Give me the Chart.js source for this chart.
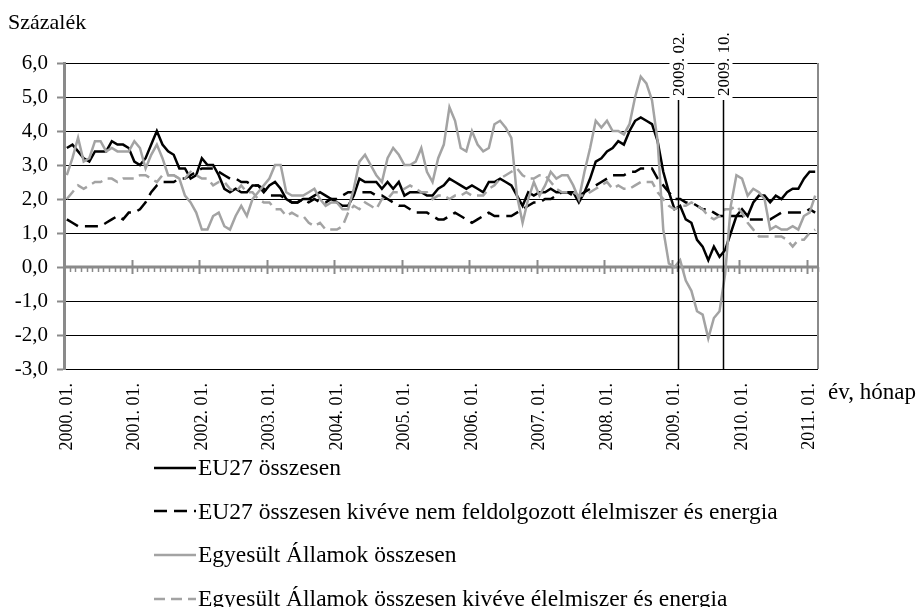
<!DOCTYPE html>
<html>
<head>
<meta charset="utf-8">
<script src="https://cdn.jsdelivr.net/npm/chart.js@4.4.0/dist/chart.umd.min.js"></script>
<style>
body { margin: 0; background: #fff; font-family: "Liberation Serif", "Times New Roman", serif; }
#wrap { position: relative; width: 920px; height: 607px; }
#chart { position: absolute; left: 0; top: 0; }
.txt { position: absolute; color: #000; white-space: nowrap; line-height: 26px; }
#legend { position: absolute; left: 154px; top: 446px; }
.item { display: flex; align-items: center; height: 43.6px; font-size: 23.5px; color: #000; white-space: nowrap; }
.item svg { margin-right: 2px; }
</style>
</head>
<body>
<div id="wrap">
  <canvas id="chart" width="920" height="460"></canvas>
  <div class="txt" style="left:8px; top:9px; font-size:22px;">Százalék</div>
  <div class="txt" style="left:828px; top:379px; font-size:23px;">év, hónap</div>
  <div id="legend"></div>
</div>
<script>
// ---- data (monthly, 2000. 01. - 2011. 02.) ----
const years = ["2000", "2001", "2002", "2003", "2004", "2005", "2006", "2007", "2008", "2009", "2010", "2011"];
const months = ["01", "02", "03", "04", "05", "06", "07", "08", "09", "10", "11", "12"];
const lastMonthCount = 2; // 2011 only Jan-Feb

const seriesNames = [
    "EU27 összesen",
    "EU27 összesen kivéve nem feldolgozott élelmiszer és energia",
    "Egyesült Államok összesen",
    "Egyesült Államok összesen kivéve élelmiszer és energia"
];

const eu27Total = [
    3.5, 3.6, 3.4, 3.2, 3.1, 3.4, 3.4, 3.4, 3.7, 3.6, 3.6, 3.5,
    3.1, 3.0, 3.2, 3.6, 4.0, 3.6, 3.4, 3.3, 2.9, 2.9, 2.6, 2.7,
    3.2, 3.0, 3.0, 2.7, 2.3, 2.2, 2.3, 2.2, 2.2, 2.4, 2.4, 2.2,
    2.4, 2.5, 2.3, 2.0, 1.9, 1.9, 2.0, 2.0, 2.1, 2.2, 2.1, 2.0,
    1.9, 1.8, 1.8, 2.1, 2.6, 2.5, 2.5, 2.5, 2.3, 2.5, 2.3, 2.5,
    2.1, 2.2, 2.2, 2.2, 2.1, 2.1, 2.3, 2.4, 2.6, 2.5, 2.4, 2.3,
    2.4, 2.3, 2.2, 2.5, 2.5, 2.6, 2.5, 2.4, 2.1, 1.8, 2.2, 2.1,
    2.2, 2.2, 2.3, 2.2, 2.2, 2.2, 2.2, 1.9, 2.2, 2.6, 3.1, 3.2,
    3.4, 3.5, 3.7, 3.6, 4.0, 4.3, 4.4, 4.3, 4.2, 3.7, 2.8, 2.2,
    1.7, 1.8, 1.4, 1.3, 0.8, 0.6, 0.2, 0.6, 0.3, 0.5, 1.0, 1.5,
    1.7, 1.5, 1.9, 2.1, 2.1, 1.9, 2.1, 2.0, 2.2, 2.3, 2.3, 2.6,
    2.8, 2.8
];
const eu27Core = [
    1.4, 1.3, 1.2, 1.2, 1.2, 1.2, 1.2, 1.3, 1.4, 1.5, 1.4, 1.6,
    1.6, 1.7, 1.9, 2.2, 2.4, 2.5, 2.5, 2.5, 2.6, 2.6, 2.7, 2.8,
    2.9, 2.9, 2.9, 2.8, 2.7, 2.6, 2.6, 2.5, 2.5, 2.4, 2.4, 2.3,
    2.1, 2.1, 2.1, 2.0, 1.9, 1.9, 2.0, 1.9, 2.0, 1.9, 1.9, 2.0,
    2.0, 2.1, 2.2, 2.2, 2.2, 2.2, 2.2, 2.1, 2.1, 2.0, 1.9, 1.8,
    1.8, 1.7, 1.6, 1.6, 1.6, 1.5, 1.4, 1.4, 1.5, 1.6, 1.5, 1.4,
    1.3, 1.4, 1.5, 1.6, 1.5, 1.5, 1.5, 1.5, 1.6, 1.7, 1.8, 1.9,
    1.9, 2.0, 2.0, 2.1, 2.2, 2.2, 2.1, 2.1, 2.2, 2.3, 2.4, 2.5,
    2.6, 2.7, 2.7, 2.7, 2.8, 2.8, 2.9, 2.9, 2.9, 2.6, 2.4, 2.2,
    2.0, 2.0, 1.9, 1.9, 1.8, 1.7, 1.7, 1.6, 1.5, 1.5, 1.5, 1.5,
    1.5, 1.4, 1.4, 1.4, 1.4, 1.4, 1.5, 1.6, 1.6, 1.6, 1.6, 1.6,
    1.7, 1.6
];
const usTotal = [
    2.7, 3.2, 3.8, 3.1, 3.2, 3.7, 3.7, 3.4, 3.5, 3.4, 3.4, 3.4,
    3.7, 3.5, 2.9, 3.3, 3.6, 3.2, 2.7, 2.7, 2.6, 2.1, 1.9, 1.6,
    1.1, 1.1, 1.5, 1.6, 1.2, 1.1, 1.5, 1.8, 1.5, 2.0, 2.2, 2.4,
    2.6, 3.0, 3.0, 2.2, 2.1, 2.1, 2.1, 2.2, 2.3, 2.0, 1.8, 1.9,
    1.9, 1.7, 1.7, 2.3, 3.1, 3.3, 3.0, 2.7, 2.5, 3.2, 3.5, 3.3,
    3.0, 3.0, 3.1, 3.5, 2.8, 2.5, 3.2, 3.6, 4.7, 4.3, 3.5, 3.4,
    4.0, 3.6, 3.4, 3.5, 4.2, 4.3, 4.1, 3.8, 2.1, 1.3, 2.0, 2.5,
    2.1, 2.4, 2.8, 2.6, 2.7, 2.7, 2.4, 2.0, 2.8, 3.5, 4.3, 4.1,
    4.3, 4.0, 4.0, 3.9, 4.2, 5.0, 5.6, 5.4, 4.9, 3.7, 1.1, 0.1,
    0.0, 0.2, -0.4, -0.7, -1.3, -1.4, -2.1, -1.5, -1.3, -0.2, 1.8, 2.7,
    2.6, 2.1, 2.3, 2.2, 2.0, 1.1, 1.2, 1.1, 1.1, 1.2, 1.1, 1.5,
    1.6, 2.1
];
const usCore = [
    2.0, 2.2, 2.4, 2.3, 2.4, 2.5, 2.5, 2.6, 2.6, 2.5, 2.6, 2.6,
    2.6, 2.7, 2.7, 2.6, 2.5, 2.7, 2.7, 2.7, 2.6, 2.6, 2.8, 2.7,
    2.6, 2.6, 2.4, 2.5, 2.5, 2.3, 2.2, 2.4, 2.2, 2.2, 2.0, 1.9,
    1.9, 1.7, 1.7, 1.5, 1.6, 1.5, 1.5, 1.3, 1.2, 1.3, 1.1, 1.1,
    1.1, 1.2, 1.6, 1.8, 1.7, 1.9, 1.8, 1.7, 2.0, 2.0, 2.2, 2.2,
    2.3, 2.4, 2.3, 2.2, 2.2, 2.0, 2.1, 2.1, 2.0, 2.1, 2.1, 2.2,
    2.1, 2.1, 2.1, 2.3, 2.4, 2.6, 2.7, 2.8, 2.9, 2.7, 2.6, 2.6,
    2.7, 2.7, 2.5, 2.3, 2.2, 2.2, 2.2, 2.1, 2.1, 2.2, 2.3, 2.4,
    2.5, 2.3, 2.4, 2.3, 2.3, 2.4, 2.5, 2.5, 2.5, 2.2, 2.0, 1.8,
    1.7, 1.8, 1.8, 1.9, 1.8, 1.7, 1.5, 1.4, 1.5, 1.7, 1.7, 1.8,
    1.6, 1.3, 1.1, 0.9, 0.9, 0.9, 0.9, 0.9, 0.8, 0.6, 0.8, 0.8,
    1.0, 1.1
];

const markerLabels = ["2009. 02.", "2009. 10."];
const yTicks = [-3, -2, -1, 0, 1, 2, 3, 4, 5, 6];

// category labels "YYYY. MM."
const labels = [];
years.forEach(function(yr, yi) {
    const n = (yi === years.length - 1) ? lastMonthCount : 12;
    for (let m = 0; m < n; m++) labels.push(yr + ". " + months[m] + ".");
});

const black = "#000000";
const gray = "#a3a3a3";
const axisGray = "#8a8a8a";
const serif = "'Liberation Serif', 'Times New Roman', serif";
const styles = [
    { color: black, dash: [] },
    { color: black, dash: [13, 7] },
    { color: gray, dash: [] },
    { color: gray, dash: [11, 6] }
];
const seriesData = [eu27Total, eu27Core, usTotal, usCore];

const datasets = seriesData.map(function(d, i) {
    return {
        label: seriesNames[i],
        data: d,
        borderColor: styles[i].color,
        borderDash: styles[i].dash,
        borderWidth: 2.5,
        pointRadius: 0,
        fill: false,
        tension: 0,
        order: 3 - i
    };
});

// zero axis, right border, 2009 markers
const extras = {
    id: "extras",
    beforeDatasetsDraw(chart) {
        const ctx = chart.ctx;
        const area = chart.chartArea;
        const xs = chart.scales.x;
        const ys = chart.scales.y;
        const w = xs.getPixelForValue(1) - xs.getPixelForValue(0);
        const y0 = ys.getPixelForValue(0);
        ctx.save();
        ctx.strokeStyle = axisGray;
        ctx.lineWidth = 2;
        ctx.beginPath();
        ctx.moveTo(area.right, area.top);
        ctx.lineTo(area.right, area.bottom);
        ctx.stroke();

        ctx.lineWidth = 3;
        ctx.beginPath();
        ctx.moveTo(area.left, y0);
        ctx.lineTo(area.right, y0);
        ctx.stroke();

        for (let i = 0; i <= labels.length; i++) {
            const bx = Math.round(xs.getPixelForValue(0) - w / 2 + i * w) + 0.5;
            ctx.beginPath();
            if (i % 12 === 0) {
                ctx.lineWidth = 2;
                ctx.moveTo(bx, y0 - 7);
                ctx.lineTo(bx, y0 + 7);
            } else {
                ctx.lineWidth = 1.5;
                ctx.moveTo(bx, y0);
                ctx.lineTo(bx, y0 + 5);
            }
            ctx.stroke();
        }
        ctx.restore();
    },
    afterDatasetsDraw(chart) {
        const ctx = chart.ctx;
        const area = chart.chartArea;
        const xs = chart.scales.x;
        const w = xs.getPixelForValue(1) - xs.getPixelForValue(0);
        ctx.save();
        ctx.font = "17px " + serif;
        markerLabels.forEach(function(lbl) {
            const idx = labels.indexOf(lbl);
            const px = Math.round(xs.getPixelForValue(idx) - w * 0.45) + 0.5;
            const labelBottom = area.top + 33;
            const tw = ctx.measureText(lbl).width;
            // white box behind the rotated label
            ctx.fillStyle = "#ffffff";
            ctx.fillRect(px - 9, labelBottom - tw - 4, 18, tw + 7);
            ctx.strokeStyle = black;
            ctx.lineWidth = 1.5;
            ctx.beginPath();
            ctx.moveTo(px, labelBottom + 4);
            ctx.lineTo(px, area.bottom);
            ctx.stroke();
            ctx.save();
            ctx.translate(px, labelBottom);
            ctx.rotate(-Math.PI / 2);
            ctx.fillStyle = black;
            ctx.textAlign = "left";
            ctx.textBaseline = "middle";
            ctx.fillText(lbl, 0, 1);
            ctx.restore();
        });
        ctx.restore();
    }
};

const chart = new Chart(document.getElementById("chart"), {
    type: "line",
    data: { labels: labels, datasets: datasets },
    plugins: [extras],
    options: {
        responsive: false,
        animation: false,
        devicePixelRatio: 1,
        layout: { padding: { top: 63, right: 102, left: 0, bottom: 0 } },
        plugins: { legend: { display: false }, tooltip: { enabled: false } },
        scales: {
            x: {
                type: "category",
                offset: true,
                grid: { display: false, drawTicks: false },
                border: { display: false },
                afterFit: function(s) { s.height = 91; },
                ticks: {
                    autoSkip: false,
                    maxRotation: 90,
                    minRotation: 90,
                    padding: 14,
                    color: black,
                    font: { family: serif, size: 18 },
                    callback: function(val, idx) {
                        return idx % 12 === 0 ? labels[idx] : "";
                    }
                }
            },
            y: {
                min: yTicks[0],
                max: yTicks[yTicks.length - 1],
                afterFit: function(s) { s.width = 64; },
                afterBuildTicks: function(s) { s.ticks = yTicks.map(function(v) { return { value: v }; }); },
                grid: { color: black, lineWidth: 1, tickColor: axisGray, tickLength: 7, tickWidth: 2 },
                border: { color: axisGray, width: 3 },
                ticks: {
                    padding: 9,
                    color: black,
                    font: { family: serif, size: 21 },
                    callback: function(v) { return v.toFixed(1).replace(".", ","); }
                }
            }
        }
    }
});

// legend, built from the datasets
const legendBox = document.getElementById("legend");
chart.data.datasets.forEach(function(ds) {
    const row = document.createElement("div");
    row.className = "item";
    const dash = ds.borderDash.length ? ds.borderDash.join(" ") : "none";
    row.innerHTML = "<svg width='42' height='6'><line x1='0' y1='3' x2='42' y2='3' stroke='" + ds.borderColor +
        "' stroke-width='2.5' stroke-dasharray='" + dash + "'/></svg><span>" + ds.label + "</span>";
    legendBox.appendChild(row);
});
</script>
</body>
</html>
